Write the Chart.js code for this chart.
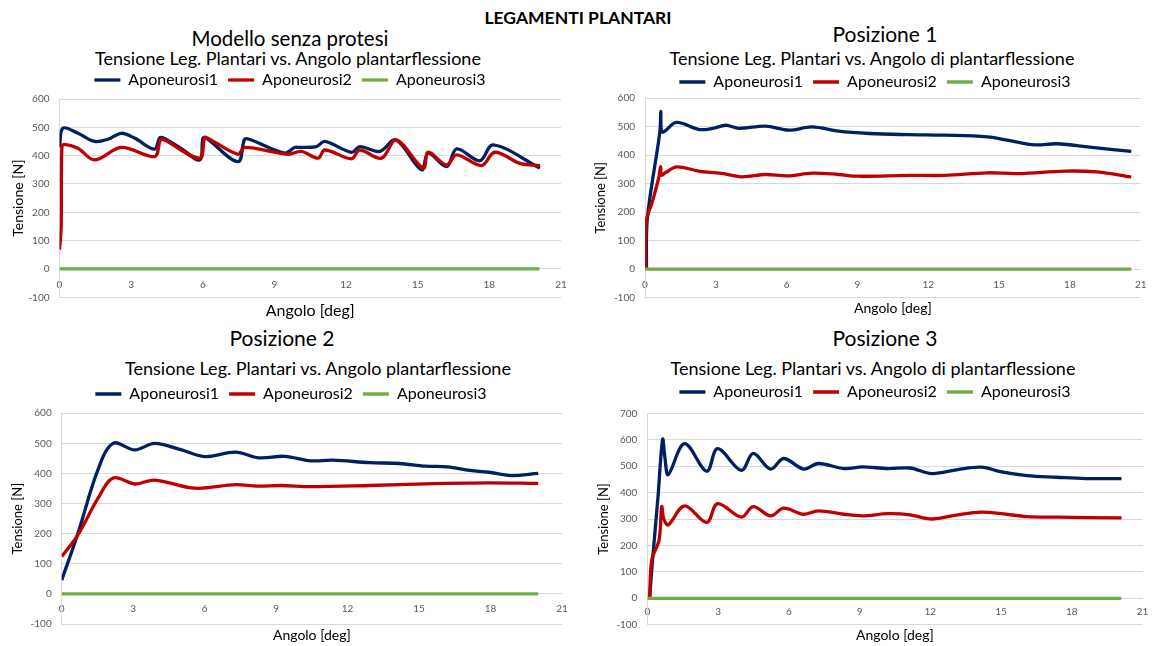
<!DOCTYPE html>
<html>
<head>
<meta charset="utf-8">
<title>Legamenti plantari</title>
<script src="https://cdn.jsdelivr.net/npm/chart.js@4.4.1/dist/chart.umd.min.js"></script>
<style>
  html, body { margin: 0; padding: 0; background: #ffffff; }
  #page { position: relative; width: 1156px; height: 646px; overflow: hidden; font-family: Lato, sans-serif; color: #000; }
  .txt { position: absolute; transform: translate(-50%, -50%); white-space: nowrap; line-height: 1; }
  canvas { position: absolute; }
</style>
</head>
<body>
<div id="page">
  <div class="txt" style="left:578px;top:18px;font-size:17.5px;font-weight:bold;">LEGAMENTI PLANTARI</div>

  <div class="txt" style="left:290px;top:38px;font-size:20.5px;">Modello senza protesi</div>
  <div class="txt" style="left:288px;top:58px;font-size:18px;">Tensione Leg. Plantari vs. Angolo plantarflessione</div>

  <div class="txt" style="left:885px;top:33px;font-size:21px;">Posizione 1</div>
  <div class="txt" style="left:872px;top:58px;font-size:18px;">Tensione Leg. Plantari vs. Angolo di plantarflessione</div>

  <div class="txt" style="left:282px;top:337px;font-size:21px;">Posizione 2</div>
  <div class="txt" style="left:318px;top:368px;font-size:18px;">Tensione Leg. Plantari vs. Angolo plantarflessione</div>

  <div class="txt" style="left:885px;top:337px;font-size:21px;">Posizione 3</div>
  <div class="txt" style="left:873px;top:368px;font-size:18px;">Tensione Leg. Plantari vs. Angolo di plantarflessione</div>

  <canvas id="chartSenza" width="580" height="262" style="left:0px;top:60px;"></canvas>
  <canvas id="chartPos1" width="576" height="262" style="left:580px;top:60px;"></canvas>
  <canvas id="chartPos2" width="580" height="276" style="left:0px;top:370px;"></canvas>
  <canvas id="chartPos3" width="576" height="276" style="left:580px;top:370px;"></canvas>
</div>

<script>
// ---- tick labels ----
const angleTicks = [0, 3, 6, 9, 12, 15, 18, 21];
const tensionTicks600 = [-100, 0, 100, 200, 300, 400, 500, 600];
const tensionTicks700 = [-100, 0, 100, 200, 300, 400, 500, 600, 700];

const seriesNames = ['Aponeurosi1', 'Aponeurosi2', 'Aponeurosi3'];
const seriesColors = ['#002060', '#C00000', '#70AD47'];

// ---- Modello senza protesi ----
const senzaAng1 = [0, 0.14, 0.77, 1.47, 2.03, 2.59, 3.14, 3.98, 4.19, 4.35, 5.1, 5.87, 6.01, 6.15, 7.47, 7.75, 7.95, 9.43, 9.85, 10.06, 10.76, 11.11, 12.23, 12.57, 13.41, 14.08, 15.16, 15.44, 16.21, 16.63, 17.6, 18.16, 20.12];
const senzaTen1 = [430, 497, 479, 450, 458, 479, 462, 423, 462, 462, 425, 385, 462, 462, 379, 458, 458, 409, 429, 429, 432, 450, 412, 432, 415, 456, 350, 409, 361, 424, 382, 438, 356];
const senzaAng2 = [0, 0.07, 0.1, 0.21, 0.77, 1.47, 2.59, 3.98, 4.23, 4.4, 5.87, 6.08, 6.25, 7.47, 7.75, 9.57, 10.13, 10.83, 11.11, 12.23, 12.57, 13.48, 14.1, 15.23, 15.44, 16.21, 16.63, 17.67, 18.23, 19.28, 20.12];
const senzaTen2 = [68, 150, 430, 440, 426, 385, 429, 397, 456, 455, 391, 464, 460, 405, 429, 405, 415, 391, 420, 389, 420, 391, 456, 356, 412, 367, 403, 365, 412, 373, 365];
const senzaAng3 = [0, 20.1];
const senzaTen3 = [0, 0];

// ---- Posizione 1 ----
const pos1Ang1 = [0.06, 0.1, 0.63, 0.67, 0.7, 0.84, 1.33, 2.31, 2.87, 3.42, 3.98, 5.1, 6.1, 7.08, 8.2, 9.5, 11.15, 12.7, 14.5, 15.46, 16.5, 17.46, 18.85, 20.6];
const pos1Ten1 = [0, 178, 482, 554, 482, 484, 515, 490, 494, 505, 494, 502, 488, 499, 484, 476, 472, 470, 464, 451, 436, 440, 428, 413];
const pos1Ang2 = [0.02, 0.05, 0.31, 0.59, 0.66, 0.7, 0.87, 1.35, 2.26, 3.24, 4.08, 5.1, 6.04, 7.08, 8.2, 9.0, 11.15, 12.7, 14.5, 15.8, 17.8, 19.15, 20.6];
const pos1Ten2 = [0, 166, 236, 324, 359, 330, 339, 359, 344, 336, 324, 332, 327, 337, 332, 326, 329, 329, 338, 335, 344, 341, 323];
const pos1Ang3 = [0, 20.6];
const pos1Ten3 = [0, 0];

// ---- Posizione 2 ----
const pos2Ang1 = [0, 0.68, 1.52, 2.16, 3.07, 3.9, 5.03, 6.0, 7.3, 8.27, 9.36, 10.45, 11.38, 12.94, 14.18, 15.27, 16.2, 17.14, 17.92, 18.85, 20.0];
const pos2Ten1 = [46, 201, 412, 500, 478, 500, 478, 456, 471, 452, 457, 442, 444, 436, 433, 424, 422, 410, 404, 393, 400];
const pos2Ang2 = [0, 0.68, 1.52, 2.16, 3.07, 3.9, 5.59, 7.3, 8.2, 9.2, 10.45, 12.94, 16.05, 17.92, 20.0];
const pos2Ten2 = [124, 196, 317, 385, 365, 378, 351, 363, 358, 360, 356, 360, 367, 369, 367];
const pos2Ang3 = [0, 20.0];
const pos2Ten3 = [0, 0];

// ---- Posizione 3 ----
const pos3Ang1 = [0.1, 0.2, 0.45, 0.65, 0.75, 0.89, 1.58, 2.52, 2.98, 3.99, 4.49, 5.23, 5.78, 6.63, 7.25, 8.34, 9.12, 10.2, 11.14, 12.07, 13.16, 14.17, 15.02, 16.11, 17.35, 18.59, 20.11];
const pos3Ten1 = [0, 120, 380, 601, 530, 468, 585, 481, 566, 484, 548, 489, 529, 489, 510, 491, 497, 491, 493, 472, 487, 496, 478, 464, 458, 453, 453];
const pos3Ang2 = [0.1, 0.19, 0.5, 0.61, 0.7, 0.89, 1.58, 2.52, 2.98, 3.99, 4.49, 5.23, 5.78, 6.63, 7.25, 8.34, 9.12, 10.2, 11.14, 12.07, 13.16, 14.17, 15.02, 16.11, 17.35, 20.11];
const pos3Ten2 = [5, 145, 221, 347, 300, 278, 350, 287, 358, 307, 347, 312, 341, 318, 331, 318, 312, 320, 316, 300, 316, 326, 320, 309, 307, 304];
const pos3Ang3 = [0, 20.1];
const pos3Ten3 = [0, 0];

const FONT = 'Lato, sans-serif';

// stretches the legend box so the plot area starts where wanted
const legendGap = {
  id: 'legendGap',
  beforeInit(chart, args, opts) {
    const legend = chart.legend;
    if (!legend) return;
    const fit = legend.fit;
    legend.fit = function () {
      fit.call(this);
      this.height += (opts && opts.size) || 0;
    };
  }
};

function points(xs, ys) {
  return xs.map((x, i) => ({ x: x, y: ys[i] }));
}

function makeDatasets(pairs) {
  // series 1 sits at the bottom, series 3 on top
  return pairs.map((p, i) => ({
    label: seriesNames[i],
    data: points(p[0], p[1]),
    borderColor: seriesColors[i],
    backgroundColor: seriesColors[i],
    borderWidth: 3.3,
    pointRadius: 0,
    pointHoverRadius: 0,
    tension: 0.35,
    fill: false,
    order: 2 - i
  }));
}

function makeChart(id, pairs, yTicks, s) {
  new Chart(document.getElementById(id), {
    type: 'line',
    data: { datasets: makeDatasets(pairs) },
    plugins: [legendGap],
    options: {
      responsive: false,
      animation: false,
      events: [],
      layout: { padding: s.pad },
      plugins: {
        legendGap: { size: s.gap },
        tooltip: { enabled: false },
        title: { display: false },
        legend: {
          display: true,
          position: 'top',
          labels: {
            usePointStyle: true,
            pointStyle: 'line',
            pointStyleWidth: 26,
            padding: 10,
            color: '#000',
            font: { family: FONT, size: 16 },
            sort: (a, b) => a.datasetIndex - b.datasetIndex
          }
        }
      },
      scales: {
        x: {
          type: 'linear',
          // the horizontal axis crosses the vertical one at zero
          position: { y: 0 },
          min: angleTicks[0],
          max: angleTicks[angleTicks.length - 1],
          afterBuildTicks: sc => { sc.ticks = angleTicks.map(v => ({ value: v })); },
          afterFit: sc => { sc.height = s.xAxisH; },
          grid: { display: false, drawTicks: false },
          border: { display: false },
          ticks: { padding: s.xTickPad, color: '#595959', font: { family: FONT, size: 10 }, maxRotation: 0, autoSkip: false },
          title: {
            display: true, text: 'Angolo [deg]', color: '#000',
            font: { family: FONT, size: s.xTitleSize },
            padding: { top: 0, bottom: 0 }
          }
        },
        y: {
          type: 'linear',
          min: yTicks[0],
          max: yTicks[yTicks.length - 1],
          afterBuildTicks: sc => { sc.ticks = yTicks.map(v => ({ value: v })); },
          afterFit: sc => { sc.width = s.yAxisW; },
          grid: { color: '#d9d9d9', lineWidth: 1, drawTicks: false },
          border: { display: true, color: '#d9d9d9', width: 1 },
          ticks: { padding: 10, color: '#595959', font: { family: FONT, size: 10 } },
          title: {
            display: true, text: 'Tensione [N]', color: '#000',
            font: { family: FONT, size: s.yTitleSize },
            padding: { top: s.yTitlePad, bottom: 0 }
          }
        }
      }
    }
  });
}

function drawAll() {
  makeChart('chartSenza',
    [[senzaAng1, senzaTen1], [senzaAng2, senzaTen2], [senzaAng3, senzaTen3]],
    tensionTicks600,
    { pad: { left: 19, right: 19, top: 2, bottom: 24.7 }, gap: 1, yAxisW: 40.5, xAxisH: 51.6,
      xTickPad: 10, xTitleSize: 16, yTitleSize: 14, yTitlePad: -9.4 });

  makeChart('chartPos1',
    [[pos1Ang1, pos1Ten1], [pos1Ang2, pos1Ten2], [pos1Ang3, pos1Ten3]],
    tensionTicks600,
    { pad: { left: 23, right: 9, top: 4, bottom: 24.5 }, gap: -1.8, yAxisW: 42, xAxisH: 47.4,
      xTickPad: 9.5, xTitleSize: 14, yTitleSize: 13, yTitlePad: -9.8 });

  makeChart('chartPos2',
    [[pos2Ang1, pos2Ten1], [pos2Ang2, pos2Ten2], [pos2Ang3, pos2Ten3]],
    tensionTicks600,
    { pad: { left: 20, right: 18, top: 6, bottom: 21.9 }, gap: 1.2, yAxisW: 41.7, xAxisH: 50.4,
      xTickPad: 8.4, xTitleSize: 14, yTitleSize: 13, yTitlePad: -9.8 });

  makeChart('chartPos3',
    [[pos3Ang1, pos3Ten1], [pos3Ang2, pos3Ten2], [pos3Ang3, pos3Ten3]],
    tensionTicks700,
    { pad: { left: 22, right: 8, top: 4, bottom: 21.3 }, gap: 3.3, yAxisW: 45.3, xAxisH: 46.1,
      xTickPad: 7.7, xTitleSize: 14, yTitleSize: 13, yTitlePad: -5.8 });
}

if (document.fonts && document.fonts.load) {
  Promise.all([
    document.fonts.load('16px Lato'),
    document.fonts.load('bold 17.5px Lato')
  ]).then(drawAll, drawAll);
} else {
  drawAll();
}
</script>
</body>
</html>
